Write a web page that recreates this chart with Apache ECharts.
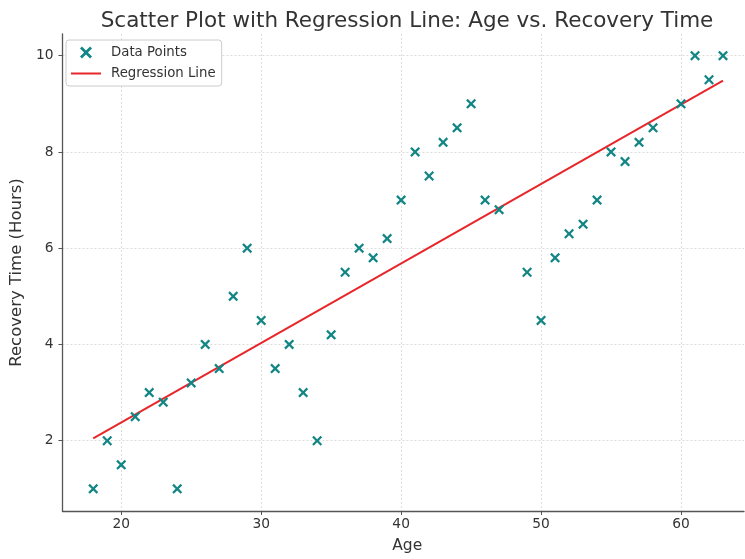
<!DOCTYPE html>
<html>
<head>
<meta charset="utf-8">
<script src="https://cdn.jsdelivr.net/npm/echarts@6/dist/echarts.min.js"></script>
<style>
  html, body { margin: 0; padding: 0; background: #fff; }
  #chart { width: 745px; height: 559px; }
</style>
</head>
<body>
<div id="chart"></div>
<script>
// 年龄（横轴）
const ages = [18, 19, 20, 21, 22, 23, 24, 25, 26, 27, 28, 29, 30, 31, 32, 33, 34, 35, 36, 37, 38, 39,
  40, 41, 42, 43, 44, 45, 46, 47, 49, 50, 51, 52, 53, 54, 55, 56, 57, 58, 60, 61, 62, 63]
// 恢复时间（纵轴）
const recoveryHours = [1, 2, 1.5, 2.5, 3, 2.8, 1, 3.2, 4, 3.5, 5, 6, 4.5, 3.5, 4, 3, 2, 4.2, 5.5, 6, 5.8, 6.2,
  7, 8, 7.5, 8.2, 8.5, 9, 7, 6.8, 5.5, 4.5, 5.8, 6.3, 6.5, 7, 8, 7.8, 8.2, 8.5, 9, 10, 9.5, 10]
// 回归线两端
const regressionAges = [18, 63]
const regressionHours = [2.05, 9.48]

const xMark = 'path://M0,1.6L1.6,0L5,3.4L8.4,0L10,1.6L6.6,5L10,8.4L8.4,10L5,6.6L1.6,10L0,8.4L3.4,5Z'
const textColor = '#333'
const font = 'DejaVu Sans'

const chart = echarts.init(document.getElementById('chart'))
const option = {
  animation: false,
  title: {
    text: 'Scatter Plot with Regression Line: Age vs. Recovery Time',
    left: 402,
    textAlign: 'center',
    top: 5,
    textStyle: { fontFamily: font, fontSize: 21.5, fontWeight: 'normal', color: textColor }
  },
  legend: {
    orient: 'vertical',
    left: 66,
    top: 40,
    padding: [6, 6, 6, 4],
    itemGap: 8,
    itemWidth: 30,
    itemHeight: 12,
    borderColor: '#ccc',
    borderWidth: 1,
    borderRadius: 3,
    backgroundColor: '#fff',
    textStyle: { fontFamily: font, fontSize: 13.3, color: textColor, padding: [0, 0, 0, 5] },
    data: [
      { name: 'Data Points' },
      { name: 'Regression Line', itemStyle: { color: 'rgba(0,0,0,0)', borderWidth: 0 } }
    ]
  },
  grid: { left: 60, right: 1, top: 34, bottom: 43 },
  xAxis: {
    type: 'value',
    min: 15.8,
    max: 64.5,
    name: 'Age',
    nameLocation: 'middle',
    nameGap: 27,
    nameTextStyle: { fontFamily: font, fontSize: 15.5, color: textColor, padding: [0, 0, 0, 8] },
    axisLine: { lineStyle: { color: '#555', width: 1.3 } },
    axisTick: { show: true, inside: false, length: 4, lineStyle: { color: '#555' } },
    axisLabel: { showMinLabel: false, showMaxLabel: false, fontFamily: font, fontSize: 13.8, color: textColor, margin: 6 },
    splitLine: { show: true, showMinLine: false, showMaxLine: false, lineStyle: { color: '#ddd', type: [2, 2] } }
  },
  yAxis: {
    type: 'value',
    min: 0.54,
    max: 10.45,
    name: 'Recovery Time (Hours)',
    nameLocation: 'middle',
    nameGap: 30,
    nameTextStyle: { fontFamily: font, fontSize: 16.5, color: textColor },
    axisLine: { show: true, lineStyle: { color: '#555', width: 1.3 } },
    axisTick: { show: true, inside: false, length: 4, lineStyle: { color: '#555' } },
    axisLabel: { showMinLabel: false, showMaxLabel: false, fontFamily: font, fontSize: 13.8, color: textColor, margin: 9 },
    splitLine: { show: true, showMinLine: false, showMaxLine: false, lineStyle: { color: '#ddd', type: [2, 2] } }
  },
  series: [
    {
      name: 'Data Points',
      type: 'scatter',
      symbol: xMark,
      symbolSize: 10,
      symbolKeepAspect: true,
      itemStyle: { color: '#128585', opacity: 1 },
      data: ages.map((a, i) => [a, recoveryHours[i]]),
      z: 3
    },
    {
      name: 'Regression Line',
      type: 'line',
      showSymbol: false,
      symbol: 'none',
      lineStyle: { color: '#e8262a', width: 2 },
      itemStyle: { color: '#e8262a' },
      data: regressionAges.map((a, i) => [a, regressionHours[i]]),
      z: 2
    }
  ]
}
chart.setOption(option)
</script>
</body>
</html>
